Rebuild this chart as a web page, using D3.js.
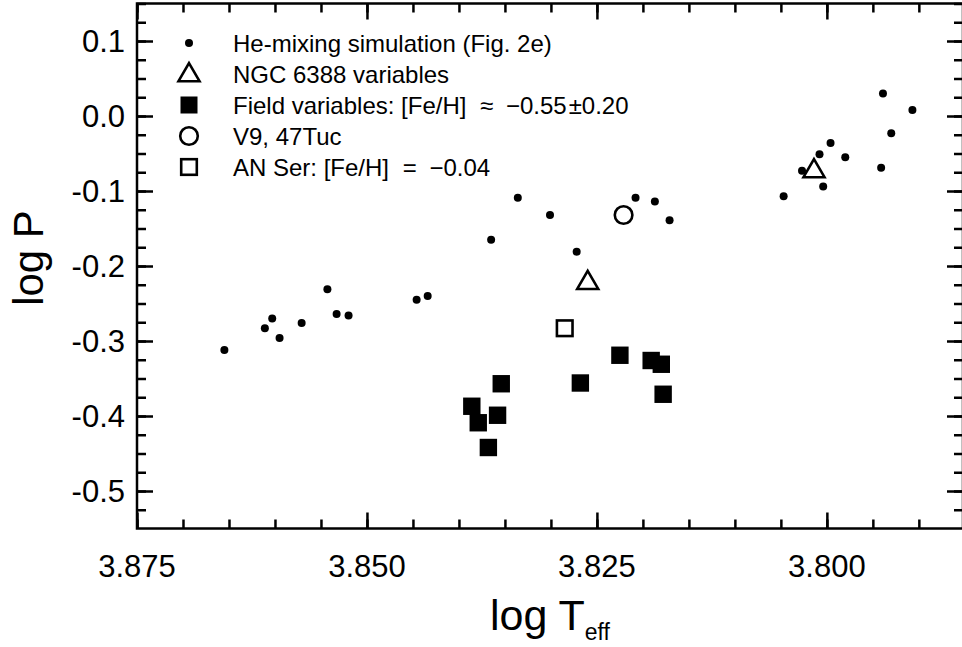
<!DOCTYPE html>
<html><head><meta charset="utf-8">
<script src="https://cdn.jsdelivr.net/npm/d3@7"></script>
<style>body{margin:0;background:#fff}svg{display:block}text{font-family:"Liberation Sans",Arial,sans-serif;fill:#000}</style>
</head><body>
<svg id="c" width="962" height="647"></svg>
<script>
// He-mixing simulation (log Teff, log P)
const heMixT = [3.8655,3.8611,3.8603,3.8595,3.8571,3.8543,3.8533,3.8520,3.8446,3.8434,3.8365,3.8336,3.8301,3.8272,3.8208,3.8187,3.8171,3.8047,3.8027,3.8008,3.8004,3.7996,3.7980,3.7941,3.7939,3.7930,3.7907];
const heMixP = [-0.312,-0.283,-0.270,-0.296,-0.276,-0.231,-0.264,-0.266,-0.245,-0.240,-0.165,-0.109,-0.132,-0.181,-0.109,-0.114,-0.139,-0.107,-0.073,-0.051,-0.094,-0.036,-0.055,-0.069,0.030,-0.023,0.008];
// NGC 6388 variables
const ngcT = [3.8260,3.8014];
const ngcP = [-0.221,-0.072];
// Field variables
const fieldT = [3.8354,3.8386,3.8379,3.8358,3.8368,3.8268,3.8225,3.8191,3.8180,3.8178];
const fieldP = [-0.357,-0.387,-0.409,-0.399,-0.442,-0.356,-0.319,-0.326,-0.331,-0.371];
// V9, 47Tuc
const v9T = [3.8221];
const v9P = [-0.132];
// AN Ser
const anT = [3.8285];
const anP = [-0.283];

const xTicks = [3.875,3.850,3.825,3.800];
const yTicks = [0.1,0.0,-0.1,-0.2,-0.3,-0.4,-0.5];
const legendLabels = ["He-mixing simulation (Fig. 2e)","NGC 6388 variables","Field variables: [Fe/H] \u2248 \u22120.55\u00B10.20","V9, 47Tuc","AN Ser: [Fe/H] = \u22120.04"];

const L=137, R=963, T=3.5, B=528.5;
const svg = d3.select("#c");
const x = d3.scaleLinear().domain([3.875, 3.7852]).range([L, R]);
const y = d3.scaleLinear().domain([-0.55, 0.15]).range([B, T]);

const majX = d3.range(0,5).map(i=>+(3.875-0.025*i).toFixed(3)).filter(v=>v>=3.7852);
const minX = d3.range(0,19).map(i=>+(3.875-0.005*i).toFixed(3)).filter(v=>v>=3.7852);
const majY = d3.range(0,8).map(i=>+(-0.5+0.1*i).toFixed(3)).filter(v=>v<=0.15);
const minY = d3.range(0,29).map(i=>+(-0.55+0.025*i).toFixed(3)).filter(v=>v<=0.15 && v>-0.55);

const fmtX = d3.format(".3f");
const fmtY = d => d3.format(".1f")(d).replace("\u2212","-");
const tf = "31px";

function mk(axisFn, scale, vals, len){
  return axisFn(scale).tickValues(vals).tickSize(-len).tickFormat("");
}
const axes = svg.append("g");
axes.append("g").attr("transform",`translate(0,${B})`).call(mk(d3.axisBottom,x,minX,9));
axes.append("g").attr("transform",`translate(0,${B})`).call(mk(d3.axisBottom,x,majX,16));
axes.append("g").attr("transform",`translate(0,${T})`).call(mk(d3.axisTop,x,minX,9));
axes.append("g").attr("transform",`translate(0,${T})`).call(mk(d3.axisTop,x,majX,16));
axes.append("g").attr("transform",`translate(${L},0)`).call(mk(d3.axisLeft,y,minY,9));
axes.append("g").attr("transform",`translate(${L},0)`).call(mk(d3.axisLeft,y,majY,16));
axes.append("g").attr("transform",`translate(${R},0)`).call(mk(d3.axisRight,y,minY,9));
axes.append("g").attr("transform",`translate(${R},0)`).call(mk(d3.axisRight,y,majY,16));
axes.selectAll(".domain").remove();
axes.selectAll("line").attr("stroke","#000").attr("stroke-width",2.5);
svg.append("rect").attr("x",L).attr("y",T).attr("width",R-L).attr("height",B-T)
  .attr("fill","none").attr("stroke","#000").attr("stroke-width",2.5);

// tick labels
svg.append("g").selectAll("text").data(xTicks).join("text")
  .attr("x",d=>x(d)).attr("y",B+48).attr("text-anchor","middle").style("font-size",tf)
  .text(d=>fmtX(d));
svg.append("g").selectAll("text").data(yTicks).join("text")
  .attr("x",L-12).attr("y",d=>y(d)+11).attr("text-anchor","end").style("font-size",tf)
  .text(d=>fmtY(d));

// axis titles
const xt = svg.append("text").attr("x",(L+R)/2).attr("y",630).attr("text-anchor","middle").style("font-size","43px");
xt.append("tspan").text("log T");
xt.append("tspan").attr("dy",10).style("font-size","23px").text("eff");
svg.append("text").attr("transform",`translate(43,258) rotate(-90)`).attr("text-anchor","middle")
  .style("font-size","42px").text("log P");

// marks
const g = svg.append("g");
const zip=(a,b)=>a.map((v,i)=>[v,b[i]]);
const triPath = (cx,cy)=>{const w=21,h=18;return `M${cx},${cy-h*0.6}L${cx+w/2},${cy+h*0.4}L${cx-w/2},${cy+h*0.4}Z`;};
g.selectAll(".he").data(zip(heMixT,heMixP)).join("circle").attr("class","he")
  .attr("cx",d=>x(d[0])).attr("cy",d=>y(d[1])).attr("r",4).attr("fill","#000");
g.selectAll(".fld").data(zip(fieldT,fieldP)).join("rect").attr("class","fld")
  .attr("x",d=>x(d[0])-8.7).attr("y",d=>y(d[1])-8.7).attr("width",17.4).attr("height",17.4).attr("fill","#000");
g.selectAll(".an").data(zip(anT,anP)).join("rect").attr("class","an")
  .attr("x",d=>x(d[0])-7.8).attr("y",d=>y(d[1])-7.8).attr("width",15.6).attr("height",15.6)
  .attr("fill","none").attr("stroke","#000").attr("stroke-width",2.6);
g.selectAll(".v9").data(zip(v9T,v9P)).join("circle").attr("class","v9")
  .attr("cx",d=>x(d[0])).attr("cy",d=>y(d[1])).attr("r",8.8)
  .attr("fill","none").attr("stroke","#000").attr("stroke-width",2.6);
g.selectAll(".ngc").data(zip(ngcT,ngcP)).join("path").attr("class","ngc")
  .attr("d",d=>triPath(x(d[0]),y(d[1]))).attr("fill","none").attr("stroke","#000").attr("stroke-width",2.6).attr("stroke-linejoin","miter");

// legend
const lx=189, ly0=43, ldy=31;
const lg = svg.append("g");
const gapBefore = {"\u2248":7,"=":7,"\u2212":6,"\u00B1":2};
legendLabels.forEach((t,i)=>{
  const cy = ly0+i*ldy;
  if(i===0) lg.append("circle").attr("cx",lx).attr("cy",cy).attr("r",4).attr("fill","#000");
  if(i===1) lg.append("path").attr("d",triPath(lx,cy)).attr("fill","none").attr("stroke","#000").attr("stroke-width",2.6);
  if(i===2) lg.append("rect").attr("x",lx-8.5).attr("y",cy-8.5).attr("width",17).attr("height",17).attr("fill","#000");
  if(i===3) lg.append("circle").attr("cx",lx).attr("cy",cy).attr("r",8.8).attr("fill","none").attr("stroke","#000").attr("stroke-width",2.6);
  if(i===4) lg.append("rect").attr("x",lx-7.8).attr("y",cy-7.8).attr("width",15.6).attr("height",15.6).attr("fill","none").attr("stroke","#000").attr("stroke-width",2.6);
  const txt = lg.append("text").attr("x",233).attr("y",cy+8.5).style("font-size","24px");
  // split so math symbols get a little extra room, as in the original typesetting
  const parts = t.split(/(\u2248|=|\u2212|\u00B1)/).filter(s=>s.length);
  parts.forEach(p=>{
    const ts = txt.append("tspan").text(p);
    if(gapBefore[p]) ts.attr("dx",gapBefore[p]);
    if(p==="\u00B1") ts.attr("dx",2);
  });
});
</script>
</body></html>
